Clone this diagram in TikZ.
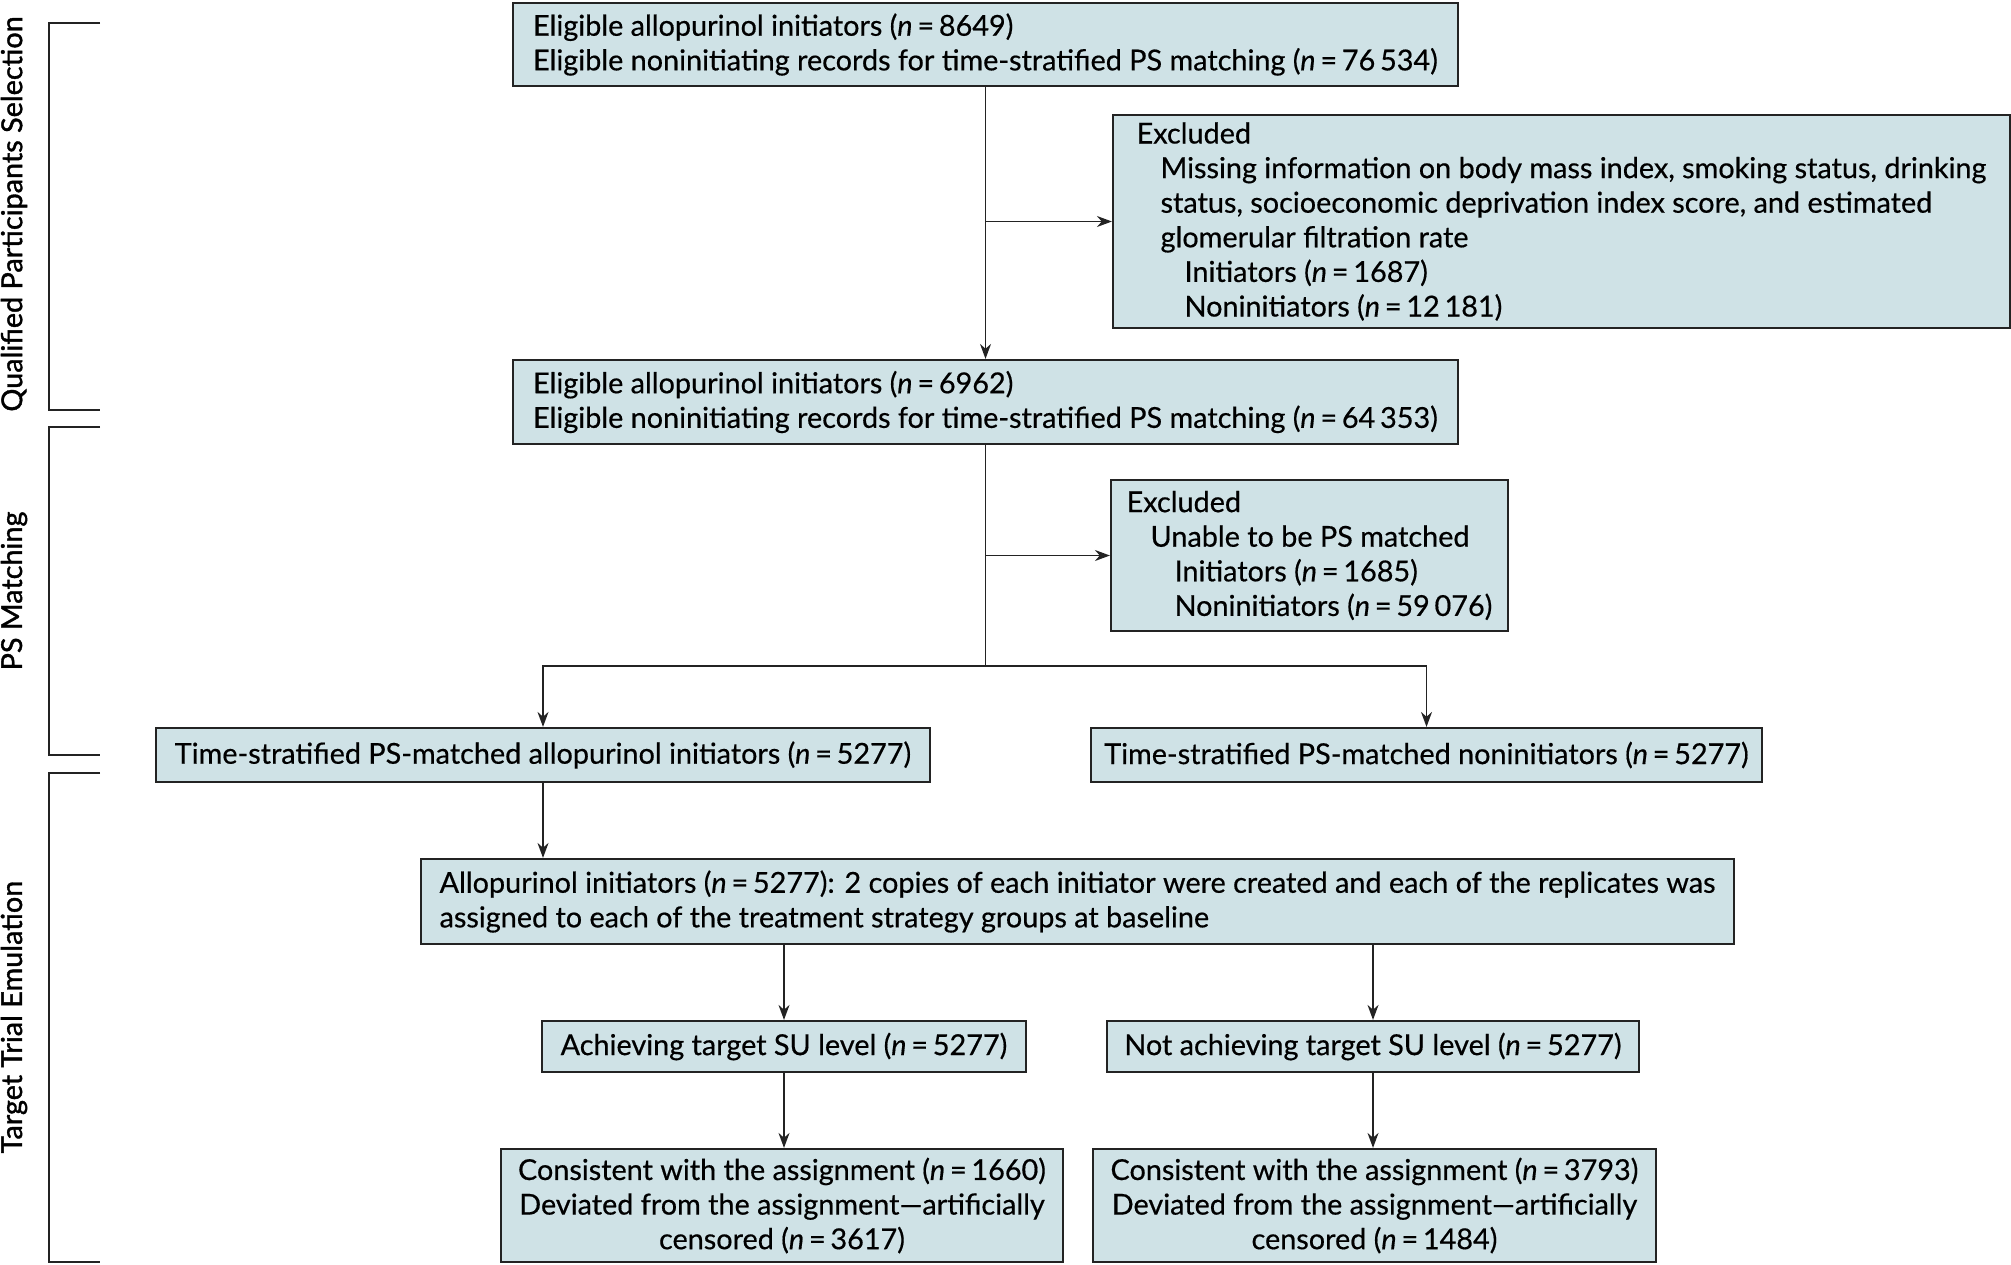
\documentclass[tikz,border=0pt]{standalone}
\usepackage{fontspec}
\setmainfont{Lato}[FakeBold=0.5]
\newfontfamily\phasefont{Lato}[FakeBold=1.3]
\usetikzlibrary{arrows.meta, positioning}
\definecolor{boxfill}{RGB}{207,226,230}
\definecolor{boxline}{RGB}{35,35,35}
\newcommand{\nn}[1]{(\textit{n}\,=\,#1)}

\begin{document}
\begin{tikzpicture}[x=0.5pt, y=-0.5pt, font=\fontsize{14.4}{17.3}\selectfont,
    box/.style={draw=boxline, fill=boxfill, line width=1.1pt, rectangle, inner xsep=4pt, inner ysep=0pt, align=left},
    arr/.style={-{Stealth[length=7.5pt, width=5.5pt]}, line width=0.9pt, draw=boxline},
    brk/.style={line width=0.9pt, draw=boxline}]
    \useasboundingbox (0,0) rectangle (2011,1264);
    % Participant selection
    \node[box, minimum width=472.5pt, minimum height=41.5pt] (elig1) at (985.5,44.5)
        {Eligible allopurinol initiators \nn{8649}\\Eligible noninitiating records for time-stratified PS matching \nn{76\,534}};
    \node[box, minimum width=448.5pt, minimum height=106.5pt, inner xsep=2pt] (excl1) at (1561.5,221.5)
        {Excluded\\\hspace*{12pt}Missing information on body mass index, smoking status, drinking\\\hspace*{12pt}status, socioeconomic deprivation index score, and estimated\\\hspace*{12pt}glomerular filtration rate\\\hspace*{24pt}Initiators \nn{1687}\\\hspace*{24pt}Noninitiators \nn{12\,181}};
    \node[box, minimum width=472.5pt, minimum height=42pt] (elig2) at (985.5,402)
        {Eligible allopurinol initiators \nn{6962}\\Eligible noninitiating records for time-stratified PS matching \nn{64\,353}};
    % PS matching
    \node[box, minimum width=198.5pt, minimum height=75.5pt] (excl2) at (1309.5,555.5)
        {Excluded\\\hspace*{12pt}Unable to be PS matched\\\hspace*{24pt}Initiators \nn{1685}\\\hspace*{24pt}Noninitiators \nn{59\,076}};
    \coordinate (split) at (985.5,666);
    \node[box, minimum width=387pt, minimum height=27pt, align=center] (psalo) at (543,755)
        {Time-stratified PS-matched allopurinol initiators \nn{5277}};
    \node[box, minimum width=335.5pt, minimum height=27pt, align=center] (psnon) at (1426.5,755)
        {Time-stratified PS-matched noninitiators \nn{5277}};
    % Target trial emulation
    \node[box, minimum width=656.5pt, minimum height=42.5pt] (clone) at (1077.5,901.5)
        {Allopurinol initiators \nn{5277}: 2 copies of each initiator were created and each of the replicates was\\assigned to each of the treatment strategy groups at baseline};
    \node[box, minimum width=242pt, minimum height=25.5pt, align=center] (achv) at (784,1046.5)
        {Achieving target SU level \nn{5277}};
    \node[box, minimum width=266pt, minimum height=25.5pt, align=center] (noachv) at (1373,1046.5)
        {Not achieving target SU level \nn{5277}};
    \node[box, minimum width=281pt, minimum height=56.5pt, align=center] (cons1) at (782,1205.5)
        {Consistent with the assignment \nn{1660}\\Deviated from the assignment---artificially\\censored \nn{3617}};
    \node[box, minimum width=281.5pt, minimum height=56.5pt, align=center] (cons2) at (1374.5,1205.5)
        {Consistent with the assignment \nn{3793}\\Deviated from the assignment---artificially\\censored \nn{1484}};

    \draw[arr] (elig1) -- (elig2);
    \draw[arr] (elig1.south |- excl1.west) -- (excl1.west);
    \draw[boxline, line width=0.9pt] (elig2.south) -- (split);
    \draw[arr] (elig2.south |- excl2.west) -- (excl2.west);
    \draw[arr] (split) -| (psalo.north);
    \draw[arr] (split) -| (psnon.north);
    \draw[arr] (psalo.south) -- (psalo.south |- clone.north);
    \draw[arr] (clone.south -| achv.north) -- (achv.north);
    \draw[arr] (clone.south -| noachv.north) -- (noachv.north);
    \draw[arr] (achv.south) -- (achv.south |- cons1.north);
    \draw[arr] (noachv.south) -- (noachv.south |- cons2.north);

    % phase brackets
    \draw[brk] (100,23) -- (49,23) -- (49,410) -- (100,410);
    \draw[brk] (100,427) -- (49,427) -- (49,755) -- (100,755);
    \draw[brk] (100,773) -- (49,773) -- (49,1262) -- (100,1262);
    \node[rotate=90, font=\phasefont\fontsize{14.4}{17.3}\selectfont] (phase1) at (14,214) {Qualified Participants Selection};
    \node[rotate=90, font=\phasefont\fontsize{14.4}{17.3}\selectfont] (phase2) at (14,591) {PS Matching};
    \node[rotate=90, font=\phasefont\fontsize{14.4}{17.3}\selectfont] (phase3) at (14,1017) {Target Trial Emulation};
\end{tikzpicture}
\end{document}
